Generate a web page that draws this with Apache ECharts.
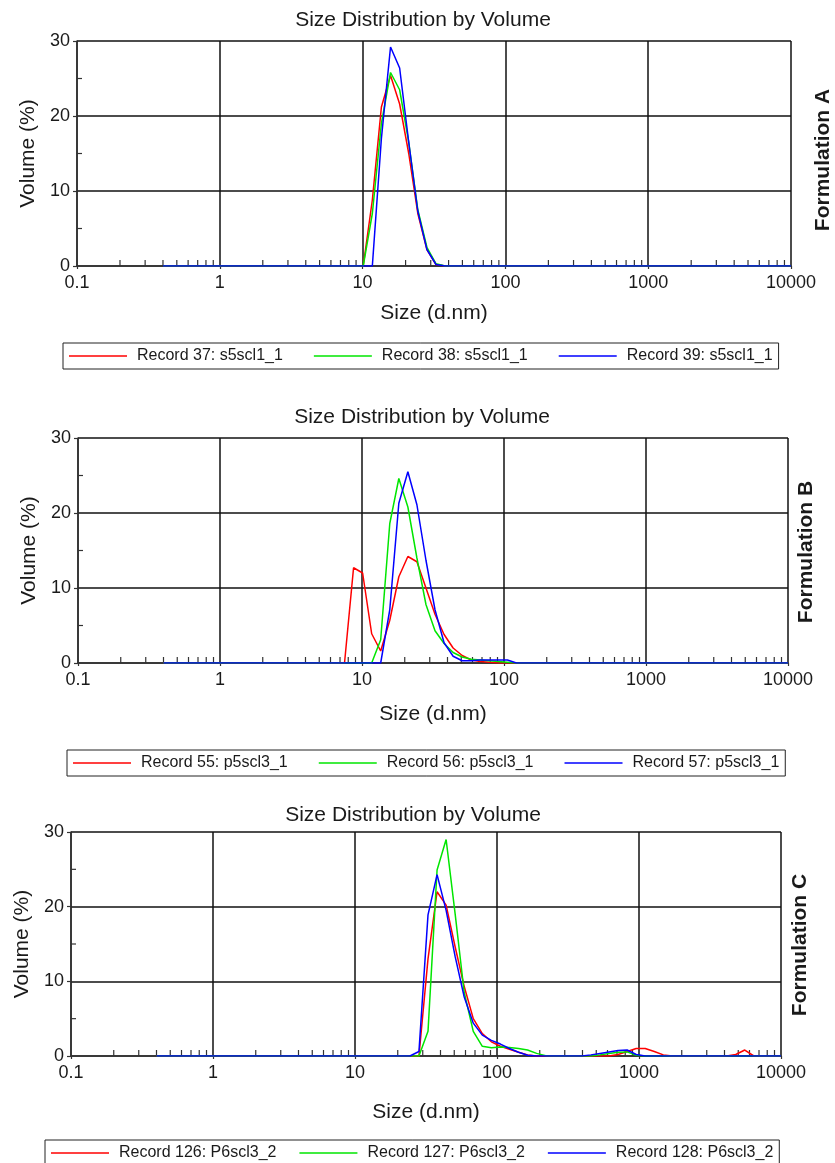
<!DOCTYPE html>
<html>
<head>
<meta charset="utf-8">
<script src="https://cdn.jsdelivr.net/npm/echarts@6/dist/echarts.min.js"></script>
<style>
  html, body { margin: 0; padding: 0; background: #fff; }
  #chart { width: 835px; height: 1163px; }
</style>
</head>
<body>
<div id="chart"></div>
<script>
// size classes (d.nm) of the instrument, 0.4 .. 10000
const sizes = [
  0.4, 0.4632, 0.5365, 0.6213, 0.7195, 0.8332, 0.9649, 1.117, 1.294, 1.499,
  1.736, 2.01, 2.328, 2.696, 3.122, 3.615, 4.187, 4.849, 5.615, 6.503,
  7.531, 8.721, 10.1, 11.7, 13.54, 15.69, 18.17, 21.04, 24.36, 28.21,
  32.67, 37.84, 43.82, 50.75, 58.77, 68.06, 78.82, 91.28, 105.7, 122.4,
  141.8, 164.2, 190.1, 220.2, 255, 295.3, 342, 396.1, 458.7, 531.2,
  615.1, 712.4, 825, 955.4, 1106, 1281, 1484, 1718, 1990, 2305,
  2669, 3091, 3580, 4145, 4801, 5560, 6439, 7456, 8635, 10000
];

// Volume (%) per size class
const rec37 = [
  0,0,0,0,0,0,0,0,0,0, 0,0,0,0,0,0,0,0,0,0,
  0,0,0,8.8,21.2,25.4,21.6,15.0,7.0,2.2, 0.2,0,0,0,0,0,0,0,0,0,
  0,0,0,0,0,0,0,0,0,0, 0,0,0,0,0,0,0,0,0,0, 0,0,0,0,0,0,0,0,0,0
];
const rec38 = [
  0,0,0,0,0,0,0,0,0,0, 0,0,0,0,0,0,0,0,0,0,
  0,0,0,7.0,19.0,25.8,23.5,16.5,7.5,2.5, 0.3,0,0,0,0,0,0,0,0,0,
  0,0,0,0,0,0,0,0,0,0, 0,0,0,0,0,0,0,0,0,0, 0,0,0,0,0,0,0,0,0,0
];
const rec39 = [
  0,0,0,0,0,0,0,0,0,0, 0,0,0,0,0,0,0,0,0,0,
  0,0,0,0,17.0,29.2,26.4,16.5,7.3,2.2, 0.2,0,0,0,0,0,0,0,0,0,
  0,0,0,0,0,0,0,0,0,0, 0,0,0,0,0,0,0,0,0,0, 0,0,0,0,0,0,0,0,0,0
];
const rec55 = [
  0,0,0,0,0,0,0,0,0,0, 0,0,0,0,0,0,0,0,0,0,
  0,12.7,12.0,3.9,1.6,5.7,11.5,14.2,13.5,10.0, 6.5,3.8,2.0,1.0,0.4,0.2,0.1,0,0,0,
  0,0,0,0,0,0,0,0,0,0, 0,0,0,0,0,0,0,0,0,0, 0,0,0,0,0,0,0,0,0,0
];
const rec56 = [
  0,0,0,0,0,0,0,0,0,0, 0,0,0,0,0,0,0,0,0,0,
  0,0,0,0,3.1,18.6,24.6,20.8,14.0,7.8, 4.3,2.6,1.4,0.8,0.5,0.4,0.3,0.2,0.1,0,
  0,0,0,0,0,0,0,0,0,0, 0,0,0,0,0,0,0,0,0,0, 0,0,0,0,0,0,0,0,0,0
];
const rec57 = [
  0,0,0,0,0,0,0,0,0,0, 0,0,0,0,0,0,0,0,0,0,
  0,0,0,0,0,7.1,21.3,25.5,21.1,13.7, 7.1,2.7,0.9,0.3,0.3,0.4,0.4,0.4,0.4,0,
  0,0,0,0,0,0,0,0,0,0, 0,0,0,0,0,0,0,0,0,0, 0,0,0,0,0,0,0,0,0,0
];
const rec126 = [
  0,0,0,0,0,0,0,0,0,0, 0,0,0,0,0,0,0,0,0,0,
  0,0,0,0,0,0,0,0,0,0, 13.0,22.0,20.2,14.6,9.3,5.0,3.0,1.9,1.3,0.9,
  0.5,0.15,0,0,0,0,0,0,0,0, 0,0.2,0.6,1.0,1.0,0.6,0.15,0,0,0, 0,0,0,0,0.2,0.8,0,0,0,0
];
const rec127 = [
  0,0,0,0,0,0,0,0,0,0, 0,0,0,0,0,0,0,0,0,0,
  0,0,0,0,0,0,0,0,0,0, 3.3,24.9,29.0,19.0,8.5,3.3,1.3,1.1,1.2,1.15,
  1.0,0.8,0.35,0.05,0,0,0,0,0,0.15, 0.35,0.5,0.55,0.1,0,0,0,0,0,0, 0,0,0,0,0,0,0,0,0,0
];
const rec128 = [
  0,0,0,0,0,0,0,0,0,0, 0,0,0,0,0,0,0,0,0,0,
  0,0,0,0,0,0,0,0,0,0.6, 18.9,24.3,19.5,13.3,7.9,4.4,2.8,2.1,1.6,1.0,
  0.5,0.1,0,0,0,0,0,0,0.15,0.35, 0.55,0.75,0.8,0.2,0,0,0,0,0,0, 0,0,0,0,0,0,0,0,0,0
];

const xTicks = [0.1, 1, 10, 100, 1000, 10000];
const xMinorTicks = [
  0.2, 0.3, 0.4, 0.5, 0.6, 0.7, 0.8, 0.9,
  2, 3, 4, 5, 6, 7, 8, 9,
  20, 30, 40, 50, 60, 70, 80, 90,
  200, 300, 400, 500, 600, 700, 800, 900,
  2000, 3000, 4000, 5000, 6000, 7000, 8000, 9000
];
const yMinorTicks = [5, 15, 25];

const panels = [
  { title: 'Size Distribution by Volume', side: 'Formulation A',
    names: ['Record 37: s5scl1_1', 'Record 38: s5scl1_1', 'Record 39: s5scl1_1'],
    values: [rec37, rec38, rec39] },
  { title: 'Size Distribution by Volume', side: 'Formulation B',
    names: ['Record 55: p5scl3_1', 'Record 56: p5scl3_1', 'Record 57: p5scl3_1'],
    values: [rec55, rec56, rec57] },
  { title: 'Size Distribution by Volume', side: 'Formulation C',
    names: ['Record 126: P6scl3_2', 'Record 127: P6scl3_2', 'Record 128: P6scl3_2'],
    values: [rec126, rec127, rec128] }
];

const colors = ['#ff0000', '#00e600', '#0000ff'];
const font = 'Liberation Sans, Arial, sans-serif';
const ink = '#1a1a1a';

// layout per panel
const grids = [
  { left: 77, top: 41, width: 714, height: 225 },
  { left: 78, top: 438, width: 710, height: 225 },
  { left: 71, top: 832, width: 710, height: 224 }
];
const titlePos = [{ x: 423, y: 10 }, { x: 422, y: 407 }, { x: 413, y: 805 }];
const sidePos = [{ x: 823, y: 160 }, { x: 806, y: 552 }, { x: 800, y: 945 }];
const legendPos = [{ x: 63, y: 343, gap: 31 }, { x: 67, y: 750, gap: 31 }, { x: 45, y: 1140, gap: 23 }];
const xNameGap = [37, 41, 46];

const chart = echarts.init(document.getElementById('chart'));

const option = {
  animation: false,
  backgroundColor: '#fff',
  textStyle: { fontFamily: font },
  title: panels.map((p, i) => ({
    text: p.title,
    left: titlePos[i].x,
    top: titlePos[i].y,
    textAlign: 'center',
    padding: 0,
    textStyle: { fontSize: 21, fontWeight: 'normal', color: ink, fontFamily: font }
  })),
  grid: grids,
  xAxis: grids.map((g, i) => ({
    type: 'log',
    logBase: 10,
    gridIndex: i,
    min: 0.1,
    max: 10000,
    name: 'Size (d.nm)',
    nameLocation: 'middle',
    nameGap: xNameGap[i],
    nameTextStyle: { fontSize: 21, color: ink, fontFamily: font },
    axisLine: { onZero: false, lineStyle: { color: '#333', width: 1.5 } },
    axisTick: { show: true, length: 3, lineStyle: { color: '#333', width: 1.2 } },
    axisLabel: {
      fontSize: 18, color: ink, margin: 8, fontFamily: font,
      formatter: v => String(xTicks.find(t => Math.abs(t - v) / t < 1e-6) ?? v)
    },
    splitLine: { show: true, lineStyle: { color: '#111', width: 1.5 } }
  })),
  yAxis: grids.map((g, i) => ({
    type: 'value',
    gridIndex: i,
    min: 0,
    max: 30,
    interval: 10,
    name: 'Volume (%)',
    nameLocation: 'middle',
    nameRotate: 90,
    nameGap: 38,
    nameTextStyle: { fontSize: 21, color: ink, fontFamily: font },
    axisLine: { show: true, lineStyle: { color: '#333', width: 1.5 } },
    axisTick: { show: true, inside: false, length: 4, lineStyle: { color: '#333', width: 1.2 } },
    axisLabel: { fontSize: 18, color: ink, margin: 7, fontFamily: font },
    splitLine: { show: true, lineStyle: { color: '#111', width: 1.5 } }
  })),
  legend: panels.map((p, i) => ({
    data: p.names,
    left: legendPos[i].x,
    top: legendPos[i].y,
    orient: 'horizontal',
    icon: 'rect',
    itemWidth: 58,
    itemHeight: 1.5,
    itemGap: legendPos[i].gap,
    padding: [5, 6, 5, 6],
    borderColor: '#222',
    borderWidth: 1,
    selectedMode: false,
    textStyle: { fontSize: 16, color: ink, fontFamily: font, padding: [0, 0, 0, 5] }
  })),
  graphic: panels.map((p, i) => ({
    type: 'text',
    x: sidePos[i].x,
    y: sidePos[i].y,
    rotation: Math.PI / 2,
    style: {
      text: p.side,
      font: 'bold 21px ' + font,
      fill: ink,
      textAlign: 'center',
      textVerticalAlign: 'middle'
    }
  })),
  series: []
};

panels.forEach((p, i) => {
  // log minor ticks on the size axis (pointing up into the plot)
  option.series.push({
    type: 'custom',
    xAxisIndex: i,
    yAxisIndex: i,
    silent: true,
    z: 1,
    data: xMinorTicks.map(v => [v, 0]),
    renderItem: (params, api) => {
      const pt = api.coord([api.value(0), 0]);
      return {
        type: 'line',
        shape: { x1: pt[0], y1: pt[1], x2: pt[0], y2: pt[1] - 6 },
        style: { stroke: '#333', lineWidth: 1.2 }
      };
    }
  });
  // minor ticks on the volume axis (pointing right into the plot)
  option.series.push({
    type: 'custom',
    xAxisIndex: i,
    yAxisIndex: i,
    silent: true,
    z: 1,
    data: yMinorTicks.map(v => [0.1, v]),
    renderItem: (params, api) => {
      const pt = api.coord([0.1, api.value(1)]);
      return {
        type: 'line',
        shape: { x1: pt[0], y1: pt[1], x2: pt[0] + 5, y2: pt[1] },
        style: { stroke: '#333', lineWidth: 1.2 }
      };
    }
  });
  p.names.forEach((name, k) => {
    option.series.push({
      type: 'line',
      name: name,
      xAxisIndex: i,
      yAxisIndex: i,
      data: sizes.map((s, j) => [s, p.values[k][j]]),
      symbol: 'none',
      z: 3 + k,
      color: colors[k],
      lineStyle: { color: colors[k], width: 1.5 }
    });
  });
});

chart.setOption(option);
</script>
</body>
</html>
